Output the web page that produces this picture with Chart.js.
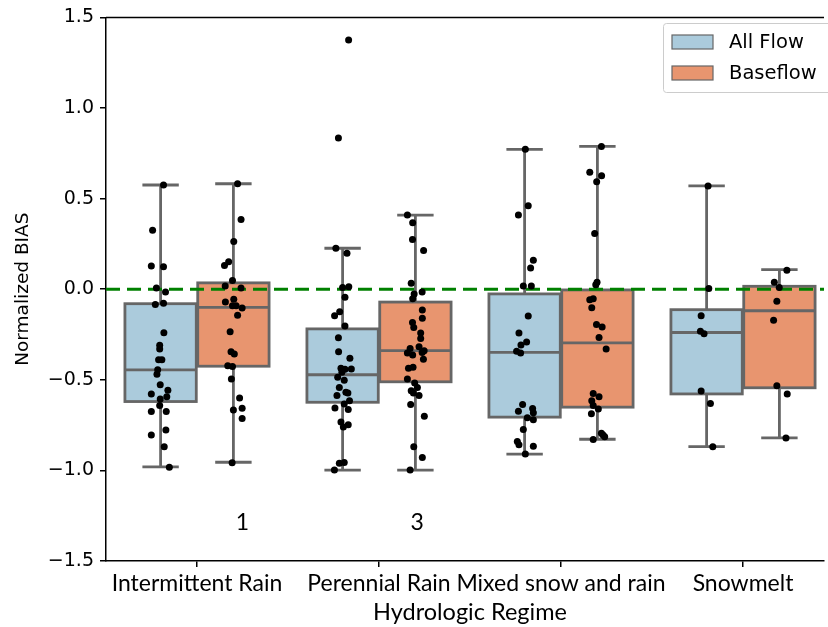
<!DOCTYPE html>
<html>
<head>
<meta charset="utf-8">
<script src="https://cdn.jsdelivr.net/npm/chart.js@4"></script>
<style>
  html, body { margin: 0; padding: 0; background: #fff; }
  #wrap { width: 828px; height: 627px; }
</style>
</head>
<body>
<div id="wrap"><canvas id="chart"></canvas></div>
<script>
const categories = ["Intermittent Rain", "Perennial Rain", "Mixed snow and rain", "Snowmelt"];
const hues = ["All Flow", "Baseflow"];
const yTicks = [-1.5, -1.0, -0.5, 0.0, 0.5, 1.0, 1.5];

// [lower whisker, q1, median, q3, upper whisker] per category
const allFlowBoxes = [
  [-0.98, -0.62, -0.445, -0.08, 0.575],
  [-0.998, -0.624, -0.472, -0.219, 0.226],
  [-0.91, -0.706, -0.349, -0.026, 0.772],
  [-0.869, -0.578, -0.239, -0.113, 0.57],
];
const baseflowBoxes = [
  [-0.955, -0.425, -0.10, 0.035, 0.582],
  [-0.998, -0.511, -0.339, -0.071, 0.409],
  [-0.828, -0.651, -0.296, -0.004, 0.788],
  [-0.821, -0.544, -0.119, 0.016, 0.108],
];

// individual sites (strip plot), values and horizontal jitter
const allFlowValues = [
  [0.575, 0.325, 0.128, 0.124, 0.007, -0.016, -0.084, -0.077, -0.24, -0.31, -0.33, -0.39, -0.39, -0.445, -0.47, -0.527, -0.557, -0.578, -0.593, -0.606, -0.642, -0.675, -0.675, -0.777, -0.805, -0.87, -0.983],
  [1.375, 0.834, 0.226, 0.199, 0.009, 0.013, -0.044, -0.146, -0.124, -0.203, -0.268, -0.345, -0.381, -0.436, -0.442, -0.44, -0.458, -0.486, -0.502, -0.542, -0.569, -0.573, -0.587, -0.615, -0.633, -0.655, -0.664, -0.733, -0.761, -0.748, -0.96, -0.956, -0.998],
  [0.772, 0.46, 0.409, 0.16, 0.117, 0.018, 0.018, -0.148, -0.242, -0.292, -0.308, -0.343, -0.352, -0.637, -0.673, -0.659, -0.682, -0.71, -0.721, -0.774, -0.841, -0.859, -0.867, -0.91],
  [0.57, 0.004, -0.146, -0.232, -0.246, -0.562, -0.631, -0.869],
];
const allFlowJitter = [
  [0.016, -0.044, -0.051, 0.016, -0.023, 0.027, -0.029, 0.016, 0.018, -0.005, -0.005, -0.011, 0.007, -0.016, -0.02, -0.002, 0.04, -0.051, 0.034, -0.002, -0.005, -0.051, 0.031, 0.029, -0.051, 0.02, 0.048],
  [0.033, -0.023, -0.037, 0.024, 0, 0.034, 0.013, -0.044, -0.016, 0.013, -0.023, -0.022, 0.04, -0.009, 0.013, 0.048, -0.004, -0.027, 0.009, -0.018, 0.018, 0.029, -0.031, 0.038, 0.009, -0.042, 0.031, -0.009, 0.004, 0.031, -0.018, 0.009, -0.045],
  [0.004, 0.02, -0.034, 0.048, 0.033, -0.007, 0.037, 0.02, -0.031, 0.011, -0.02, -0.044, -0.022, -0.011, -0.034, 0.044, 0.048, 0.015, 0.048, -0.007, -0.04, -0.031, 0.048, 0.004],
  [0.008, 0.012, -0.03, -0.034, -0.014, -0.03, 0.021, 0.034],
];
const baseflowValues = [
  [0.582, 0.385, 0.263, 0.131, 0.152, 0.048, 0.018, 0.007, -0.071, -0.056, -0.091, -0.091, -0.104, -0.144, -0.235, -0.345, -0.358, -0.423, -0.427, -0.496, -0.6, -0.657, -0.666, -0.713, -0.958],
  [0.409, 0.367, 0.274, 0.213, 0.033, -0.016, -0.026, -0.053, -0.115, -0.16, -0.184, -0.212, -0.242, -0.272, -0.327, -0.317, -0.339, -0.352, -0.363, -0.35, -0.387, -0.436, -0.431, -0.496, -0.518, -0.542, -0.56, -0.573, -0.587, -0.637, -0.701, -0.869, -0.929, -0.998],
  [0.788, 0.646, 0.626, 0.593, 0.307, 0.038, 0.024, -0.058, -0.053, -0.102, -0.195, -0.208, -0.266, -0.33, -0.576, -0.593, -0.615, -0.642, -0.661, -0.688, -0.795, -0.805, -0.814, -0.83],
  [0.104, 0.038, 0.009, -0.066, -0.171, -0.533, -0.578, -0.821],
];
const baseflowJitter = [
  [0.023, 0.042, 0.002, -0.049, -0.026, -0.005, -0.045, 0.042, -0.044, 0.002, -0.005, 0.015, 0.048, 0.023, -0.018, -0.013, 0.005, -0.031, -0.005, -0.011, 0.034, 0.048, 0, 0.048, -0.007],
  [-0.044, -0.015, -0.016, 0.045, -0.023, 0.037, -0.007, -0.015, 0.038, 0.038, -0.016, -0.009, 0.029, 0.029, -0.029, 0.02, 0.048, -0.044, -0.015, 0.037, 0.044, -0.038, -0.013, -0.044, -0.004, 0.011, -0.023, -0.011, 0.02, -0.026, 0.049, -0.009, 0.038, -0.029],
  [0.022, -0.042, 0.023, -0.004, -0.015, -0.002, -0.009, -0.042, -0.023, -0.031, -0.005, 0.026, 0.009, 0.048, -0.023, 0.009, -0.031, -0.023, 0.005, -0.033, 0.022, 0.031, 0.04, -0.023],
  [0.041, -0.028, -0.001, -0.014, -0.032, -0.014, 0.043, 0.036],
];

// counts written under some boxes
const notes = [
  { x: 0.25, y: -1.29, text: "1" },
  { x: 1.21, y: -1.29, text: "3" },
];

const blueFill = "#abcbdc";
const orangeFill = "#e8956f";
const edgeGrey = "#666666";

const groups = [
  { boxes: allFlowBoxes, values: allFlowValues, jitter: allFlowJitter, offset: -0.2, color: blueFill },
  { boxes: baseflowBoxes, values: baseflowValues, jitter: baseflowJitter, offset: 0.2, color: orangeFill },
];

const toPoints = (g) =>
  g.values.flatMap((vals, i) => vals.map((v, k) => ({ x: i + g.offset + g.jitter[i][k], y: v })));

const fmt = (v) => (v < 0 ? "\u2212" : "") + Math.abs(v).toFixed(1);

const boxPlot = {
  id: "boxPlot",
  beforeDatasetsDraw(chart) {
    const { ctx, scales: { x, y } } = chart;
    ctx.save();
    ctx.lineWidth = 2.8;
    ctx.strokeStyle = edgeGrey;
    groups.forEach((g) => {
      g.boxes.forEach((b, i) => {
        const c = i + g.offset;
        const [lo, q1, med, q3, hi] = b.map((v) => y.getPixelForValue(v));
        const cx = x.getPixelForValue(c);
        const l = x.getPixelForValue(c - 0.196);
        const r = x.getPixelForValue(c + 0.196);
        const cl = x.getPixelForValue(c - 0.1);
        const cr = x.getPixelForValue(c + 0.1);
        ctx.beginPath();
        ctx.moveTo(cx, q3); ctx.lineTo(cx, hi);
        ctx.moveTo(cx, q1); ctx.lineTo(cx, lo);
        ctx.moveTo(cl, hi); ctx.lineTo(cr, hi);
        ctx.moveTo(cl, lo); ctx.lineTo(cr, lo);
        ctx.stroke();
        ctx.fillStyle = g.color;
        ctx.fillRect(l, q3, r - l, q1 - q3);
        ctx.strokeRect(l, q3, r - l, q1 - q3);
        ctx.beginPath();
        ctx.moveTo(l, med); ctx.lineTo(r, med);
        ctx.stroke();
      });
    });
    ctx.restore();
  },
  afterDraw(chart) {
    const { ctx, chartArea, scales: { x, y } } = chart;
    ctx.save();
    // top spine
    ctx.strokeStyle = "#000";
    ctx.lineWidth = 1.5;
    ctx.beginPath();
    ctx.moveTo(chartArea.left, chartArea.top);
    ctx.lineTo(chartArea.right, chartArea.top);
    ctx.stroke();

    // notes
    ctx.fillStyle = "#000";
    ctx.font = "23px Lato";
    ctx.textAlign = "center";
    ctx.textBaseline = "middle";
    notes.forEach((n) => ctx.fillText(n.text, x.getPixelForValue(n.x), y.getPixelForValue(n.y)));

    // x axis title, centred on the full axis range
    ctx.font = "23.5px Lato";
    ctx.fillText("Hydrologic Regime", x.getPixelForValue(1.5), 612);

    // legend
    const lx = 663, ly = 23;
    ctx.fillStyle = "rgba(255,255,255,0.8)";
    ctx.strokeStyle = "#cccccc";
    ctx.lineWidth = 1;
    ctx.beginPath();
    ctx.roundRect(lx + 0.5, ly + 0.5, 200, 69, 3);
    ctx.fill();
    ctx.stroke();
    ctx.font = "19.5px 'DejaVu Sans'";
    ctx.textAlign = "left";
    [blueFill, orangeFill].forEach((col, i) => {
      const py = ly + 12 + i * 31;
      ctx.fillStyle = col;
      ctx.strokeStyle = edgeGrey;
      ctx.lineWidth = 1.2;
      ctx.fillRect(lx + 9, py, 41, 14);
      ctx.strokeRect(lx + 9, py, 41, 14);
      ctx.fillStyle = "#000";
      ctx.fillText(hues[i], lx + 66, py + 7.5);
    });
    ctx.restore();
  },
};

new Chart(document.getElementById("chart"), {
  type: "scatter",
  data: {
    datasets: [
      {
        label: hues[0],
        data: toPoints(groups[0]),
        pointRadius: 3.5,
        pointBackgroundColor: "#000",
        pointBorderWidth: 0,
      },
      {
        label: hues[1],
        data: toPoints(groups[1]),
        pointRadius: 3.5,
        pointBackgroundColor: "#000",
        pointBorderWidth: 0,
      },
      {
        label: "zero",
        type: "line",
        data: [{ x: -0.5, y: 0 }, { x: 3.5, y: 0 }],
        borderColor: "#008000",
        borderWidth: 3,
        borderDash: [14, 7],
        pointRadius: 0,
      },
    ],
  },
  options: {
    responsive: true,
    maintainAspectRatio: false,
    animation: false,
    layout: { padding: { top: 13, right: 0, left: 0, bottom: 0 } },
    plugins: {
      legend: { display: false },
      tooltip: { enabled: false },
    },
    scales: {
      x: {
        type: "linear",
        min: -0.5,
        max: 3.445,
        afterBuildTicks: (s) => { s.ticks = categories.map((_, i) => ({ value: i })); },
        afterFit: (s) => { s.height = 66; },
        ticks: {
          callback: (v) => categories[v],
          font: { family: "Lato", size: 23 },
          color: "#000",
          padding: 3,
          maxRotation: 0,
          autoSkip: false,
        },
        grid: { drawOnChartArea: false, tickLength: 6, color: "#000", lineWidth: 1.5 },
        border: { color: "#000", width: 1.5 },
      },
      y: {
        min: -1.5,
        max: 1.5,
        afterBuildTicks: (s) => { s.ticks = yTicks.map((v) => ({ value: v })); },
        afterFit: (s) => { s.width = 106; },
        ticks: {
          callback: (v) => fmt(v),
          font: { family: "DejaVu Sans", size: 19 },
          color: "#000",
          padding: 6,
        },
        grid: { drawOnChartArea: false, tickLength: 6, color: "#000", lineWidth: 1.5 },
        border: { color: "#000", width: 1.5 },
        title: {
          display: true,
          text: "Normalized BIAS",
          font: { family: "DejaVu Sans", size: 18.5 },
          color: "#000",
          padding: { top: 12, bottom: 0 },
        },
      },
    },
  },
  plugins: [boxPlot],
});
</script>
</body>
</html>
